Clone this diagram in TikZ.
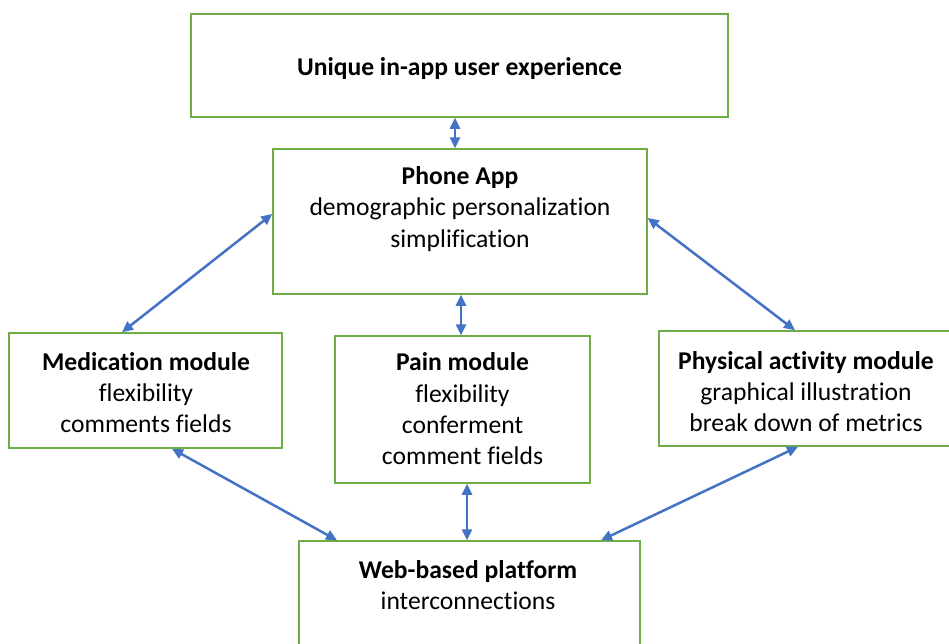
\documentclass[tikz,border=0pt]{standalone}
\usepackage{fontspec}
\setmainfont[Ligatures=NoCommon]{Carlito}
\usetikzlibrary{arrows.meta}
\definecolor{boxgreen}{RGB}{112,173,71}
\definecolor{arrowblue}{RGB}{68,114,196}
\tikzset{
  box/.style={draw=boxgreen, line width=1.5pt, rectangle, inner sep=0pt, fill=white},
  txt/.style={align=center, inner sep=0pt, text=black, font=\fontsize{25.6}{31.3}\selectfont},
  arr/.style={draw=arrowblue, line width=2.5pt, {Triangle[length=11pt,width=10pt]}-{Triangle[length=11pt,width=10pt]}}
}
\begin{document}
\begin{tikzpicture}[x=1pt,y=-1pt]
\useasboundingbox (0,0) rectangle (949,643);
\clip (0,0) rectangle (949,643);
\fill[white] (0,0) rectangle (949,643);
% boxes
\node[box, minimum width=537pt, minimum height=103pt] (top) at (459.5,65.5) {};
\node[box, minimum width=374pt, minimum height=145pt] (phone) at (460,221.5) {};
\node[box, minimum width=273pt, minimum height=115pt] (med) at (145.5,390.5) {};
\node[box, minimum width=255pt, minimum height=147pt] (pain) at (462.5,409.5) {};
\node[box, minimum width=341pt, minimum height=115pt] (phys) at (829.5,388.5) {};
\node[box, minimum width=341pt, minimum height=159pt] (web) at (469.5,620.5) {};
% texts
\node[txt] (toptxt) at (459.5,68.5) {\textbf{Unique in-app user experience}};
\node[txt] (phonetxt) at (460,209) {\textbf{Phone App}\\demographic personalization\\simplification};
\node[txt] (medtxt) at (146,392.5) {\textbf{Medication module}\\flexibility\\comments fields};
\node[txt] (paintxt) at (462.5,409) {\textbf{Pain module}\\flexibility\\conferment\\comment fields};
\node[txt] (phystxt) at (806,391.5) {\textbf{Physical activity module}\\graphical illustration\\break down of metrics};
\node[txt] (webtxt) at (468,585) {\textbf{Web-based platform}\\interconnections};
% connectors
\draw[arr] ([xshift=-4.5pt]top.south) -- ([xshift=-5pt]phone.north);
\draw[arr] ([yshift=7.5pt]phone.west) -- ([xshift=-23.5pt]med.north);
\draw[arr] ([yshift=3.5pt]phone.east) -- ([xshift=-34.5pt]phys.north);
\draw[arr] ([xshift=1pt]phone.south) -- ([xshift=-1.5pt]pain.north);
\draw[arr] ([xshift=26.5pt]med.south) -- ([xshift=-132.5pt]web.north);
\draw[arr] ([xshift=4.5pt]pain.south) -- ([xshift=-2.5pt]web.north);
\draw[arr] ([xshift=-31.5pt]phys.south) -- ([xshift=131.5pt]web.north);
\end{tikzpicture}
\end{document}
